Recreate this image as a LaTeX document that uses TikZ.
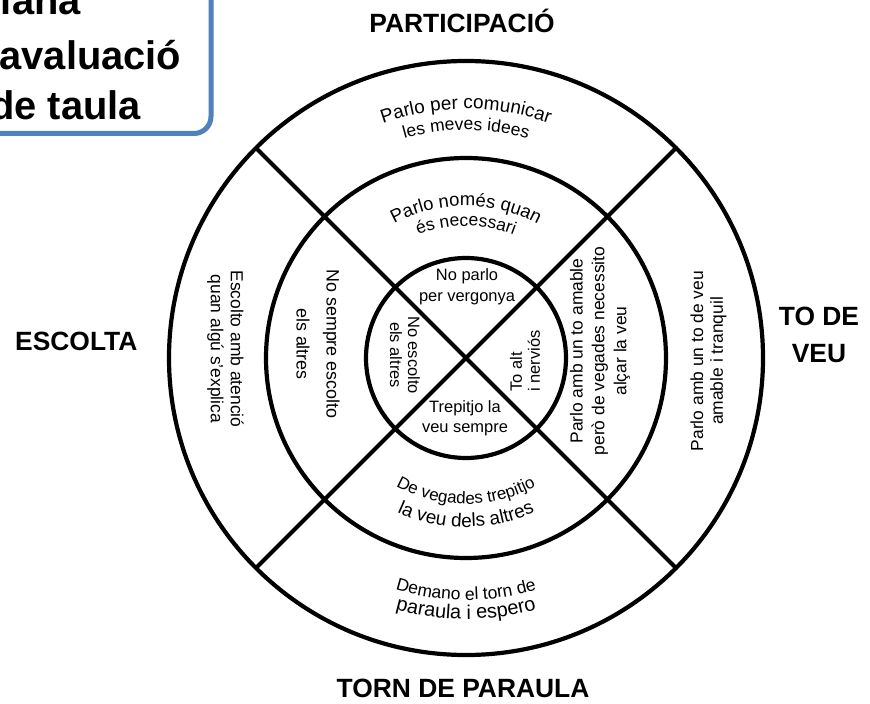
\documentclass[tikz,border=0pt]{standalone}
\usepackage{fontspec}
\setmainfont{Liberation Sans}
\usetikzlibrary{decorations.text}
\definecolor{boxblue}{RGB}{79,129,189}
\begin{document}
\begin{tikzpicture}[x=1bp,y=1bp,
  ring/.style={circle, draw=black, line width=4.2bp, inner sep=0pt, outer sep=0pt},
  divider/.style={draw=black, line width=4.2bp},
  head/.style={font=\bfseries\fontsize{26.5}{37}\selectfont, inner sep=0pt, align=center},
  titletxt/.style={font=\bfseries\fontsize{40}{48}\selectfont, inner sep=0pt, anchor=base west},
  ringtxt/.style={font=\fontsize{17.5}{20}\selectfont, inner sep=0pt, align=center},
  innertxt/.style={font=\fontsize{16.5}{18}\selectfont, inner sep=0pt, align=center},
  arctxt/.style={decorate, decoration={text along path, text align=center}}
]
\useasboundingbox (0,0) rectangle (870,-704);
\clip (0,0) rectangle (870,-704);
\fill[white] (0,0) rectangle (870,-704);

% title box (cut by the page edge)
\node[draw=boxblue, fill=white, line width=5bp, rounded corners=17bp,
      minimum width=260bp, minimum height=180bp, anchor=south east, inner sep=0pt, outer sep=0pt]
      (titlebox) at (211,-133.5) {};
\node[titletxt] (t1) at (-28,-15) {Diana};
\node[titletxt] (t2) at (-36,-70) {d'avaluació};
\node[titletxt] (t3) at (-10,-120) {de taula};

% target
\node[ring, minimum size=594bp] (outer) at (466,-358) {};
\node[ring, minimum size=400bp] (middle) at (466,-358) {};
\node[ring, minimum size=200bp] (inner) at (466,-358) {};
\draw[divider] (outer.135) -- (outer.315);
\draw[divider] (outer.45) -- (outer.225);

% headings
\node[head, anchor=base] (hpart) at (462,-33) {PARTICIPACIÓ};
\node[head, anchor=base west] (hesc) at (15,-350) {ESCOLTA};
\node[head, anchor=north] (hveu) at (819,-307) {TO DE\\VEU};
\node[head, anchor=base] (htorn) at (463,-697) {TORN DE PARAULA};

% inner ring
\node[innertxt, font=\fontsize{16.5}{21}\selectfont] (ip) at (467,-287) {No parlo\\per vergonya};
\node[innertxt, font=\fontsize{16.5}{20}\selectfont] (it) at (465,-418) {Trepitjo la\\veu sempre};
\node[innertxt, rotate=-90] (ie) at (405,-355) {No escolto\\els altres};
\node[innertxt, rotate=90, align=left] (iv) at (525,-361) {To alt\\i nerviós};

% middle ring
\path[arctxt, decoration={text={|\fontsize{18.5}{18}\selectfont|Parlo només quan}}]
  (middle.center) ++(165:152) arc[start angle=165, end angle=15, radius=152];
\path[arctxt, decoration={text={|\fontsize{17.5}{18}\selectfont|és necessari}}]
  (middle.center) ++(165:132) arc[start angle=165, end angle=15, radius=132];
\path[arctxt, decoration={text={|\fontsize{17}{18}\selectfont|De vegades trepitjo}}]
  (middle.center) ++(195:146) arc[start angle=195, end angle=345, radius=146];
\path[arctxt, decoration={text={|\fontsize{19}{18}\selectfont|la veu dels altres}}]
  (middle.center) ++(195:169) arc[start angle=195, end angle=345, radius=169];
\node[ringtxt, font=\fontsize{18}{30}\selectfont, rotate=-90] (me) at (318,-344) {No sempre escolto\\els altres};
\node[ringtxt, font=\fontsize{17.5}{22}\selectfont, rotate=90] (mv) at (600,-351) {Parlo amb un to amable\\però de vegades necessito\\alçar la veu};

% outer ring
\path[arctxt, decoration={text={|\fontsize{19}{18}\selectfont|Parlo per comunicar}}]
  (outer.center) ++(165:249) arc[start angle=165, end angle=15, radius=249];
\path[arctxt, decoration={text={|\fontsize{17.5}{18}\selectfont|les meves idees}}]
  (outer.center) ++(165:228) arc[start angle=165, end angle=15, radius=228];
\path[arctxt, decoration={text={|\fontsize{17.5}{18}\selectfont|Demano el torn de}}]
  (outer.center) ++(195:242) arc[start angle=195, end angle=345, radius=242];
\path[arctxt, decoration={text={|\fontsize{20}{18}\selectfont|paraula i espero}}]
  (outer.center) ++(195:261) arc[start angle=195, end angle=345, radius=261];
\node[ringtxt, rotate=-90] (oe) at (225.5,-349) {Escolto amb atenció\\quan algú s'explica};
\node[ringtxt, rotate=90] (ov) at (708.5,-361) {Parlo amb un to de veu\\amable i tranquil};
\end{tikzpicture}
\end{document}
